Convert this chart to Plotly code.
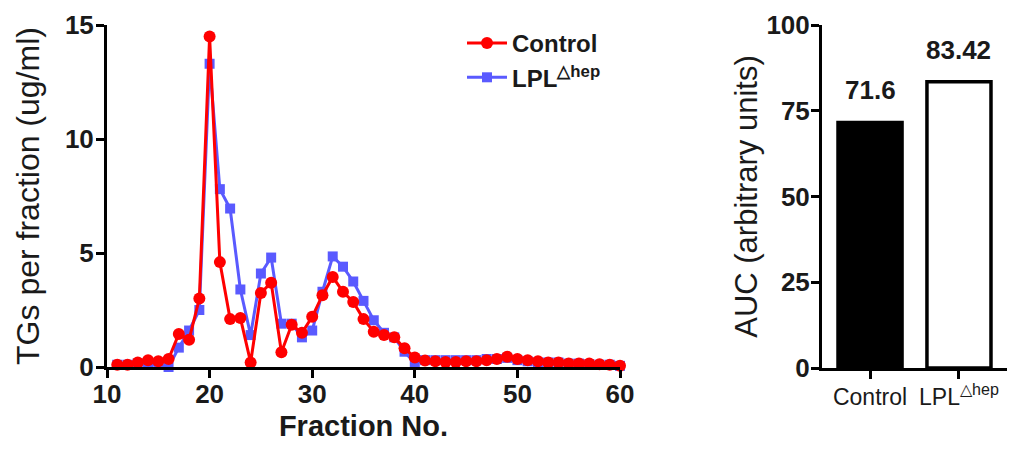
import plotly.graph_objects as go

fractions = list(range(11, 61))
control = [0.1, 0.1, 0.2, 0.3, 0.25, 0.35, 1.45, 1.2, 3.0, 14.5,
           4.6, 2.1, 2.15, 0.2, 3.25, 3.7, 0.65, 1.85, 1.5, 2.2,
           3.15, 3.95, 3.3, 2.85, 2.1, 1.55, 1.4, 1.3, 0.82, 0.42,
           0.28, 0.25, 0.22, 0.22, 0.25, 0.25, 0.3, 0.35, 0.45, 0.35,
           0.3, 0.25, 0.2, 0.2, 0.15, 0.15, 0.15, 0.12, 0.1, 0.05]
lpl = [0.1, 0.1, 0.15, 0.1, 0.1, 0.0, 0.85, 1.6, 2.5, 13.3,
       7.8, 6.95, 3.4, 1.4, 4.1, 4.8, 1.9, 1.9, 1.3, 1.6,
       3.3, 4.85, 4.4, 3.75, 2.9, 2.05, 1.5, 1.3, 0.67, 0.17,
       0.3, 0.3, 0.3, 0.3, 0.3, 0.3, 0.35, 0.35, 0.4, 0.3,
       0.25, 0.2, 0.2, 0.2, 0.15, 0.15, 0.12, 0.1, 0.1, 0.05]

groups = ["Control", "LPL<sup>△hep</sup>"]
auc = [71.6, 83.42]
auc_labels = ["71.6", "83.42"]

FONT = "Arial, Liberation Sans, sans-serif"
RED = "#ff0000"
BLUE = "#5a5aff"
INK = "#1a1a1a"

# page body margin offset: figure is drawn starting 8px in from the window corner
OFF = 8
W, H = 1022 - OFF, 452 - OFF


def px_x(p):
    return (p - OFF) / W


def px_y(p):
    return 1 - (p - OFF) / H


fig = go.Figure()
fig.add_trace(go.Scatter(x=fractions, y=lpl, name="LPL<sup>△hep</sup>",
                         mode="lines+markers", line=dict(color=BLUE, width=3),
                         marker=dict(symbol="square", size=10, color=BLUE),
                         cliponaxis=False, xaxis="x", yaxis="y"))
fig.add_trace(go.Scatter(x=fractions, y=control, name="Control",
                         mode="lines+markers", line=dict(color=RED, width=3),
                         marker=dict(symbol="circle", size=12, color=RED),
                         cliponaxis=False, xaxis="x", yaxis="y"))
fig.add_trace(go.Bar(x=groups, y=auc, marker=dict(color=["black", "white"],
                     line=dict(color="black", width=3.5)), width=0.72,
                     showlegend=False, xaxis="x2", yaxis="y2"))

for g, v, t in zip(groups, auc, auc_labels):
    fig.add_annotation(x=g, y=v, xref="x2", yref="y2", text=f"<b>{t}</b>",
                       showarrow=False, yanchor="bottom", yshift=15,
                       font=dict(size=26, family=FONT, color=INK))

axis_common = dict(showline=True, linecolor="black", linewidth=3, ticks="outside",
                   tickcolor="black", tickwidth=3, ticklen=8, showgrid=False,
                   zeroline=False, automargin=False,
                   tickfont=dict(size=26, family=FONT, color=INK, weight="bold"))

fig.update_layout(
    width=W, height=H, margin=dict(l=0, r=0, t=0, b=0),
    plot_bgcolor="white", paper_bgcolor="white",
    font=dict(family=FONT, color=INK),
    xaxis=dict(domain=[px_x(107), px_x(620)], range=[10, 60], tickvals=[10, 20, 30, 40, 50, 60],
               ticklabelstandoff=-6,
               title=dict(text="<b>Fraction No.</b>", font=dict(size=29, family=FONT), standoff=8),
               anchor="y", **axis_common),
    yaxis=dict(domain=[px_y(367), px_y(25)], range=[0, 15], tickvals=[0, 5, 10, 15],
               ticklabelstandoff=-3,
               title=dict(text="TGs per fraction (ug/ml)", font=dict(size=32, family=FONT), standoff=16),
               anchor="x", **axis_common),
    xaxis2=dict(domain=[px_x(822), px_x(1007)], range=[-0.54, 1.54], anchor="y2",
                ticklabelstandoff=-2,
                **{**axis_common, "tickfont": dict(size=23, family=FONT, color=INK)}),
    yaxis2=dict(domain=[px_y(368), px_y(25)], range=[0, 100], tickvals=[0, 25, 50, 75, 100],
                ticklabelstandoff=-4,
                title=dict(text="AUC (arbitrary units)", font=dict(size=31, family=FONT), standoff=0),
                anchor="x2", **axis_common),
    legend=dict(x=px_x(462), y=px_y(21), xanchor="left", yanchor="top",
                traceorder="reversed", bgcolor="rgba(0,0,0,0)",
                font=dict(size=24, family=FONT, color=INK, weight="bold"),
                itemwidth=40, tracegroupgap=0),
    showlegend=True,
)

fig.write_html("out.html")
